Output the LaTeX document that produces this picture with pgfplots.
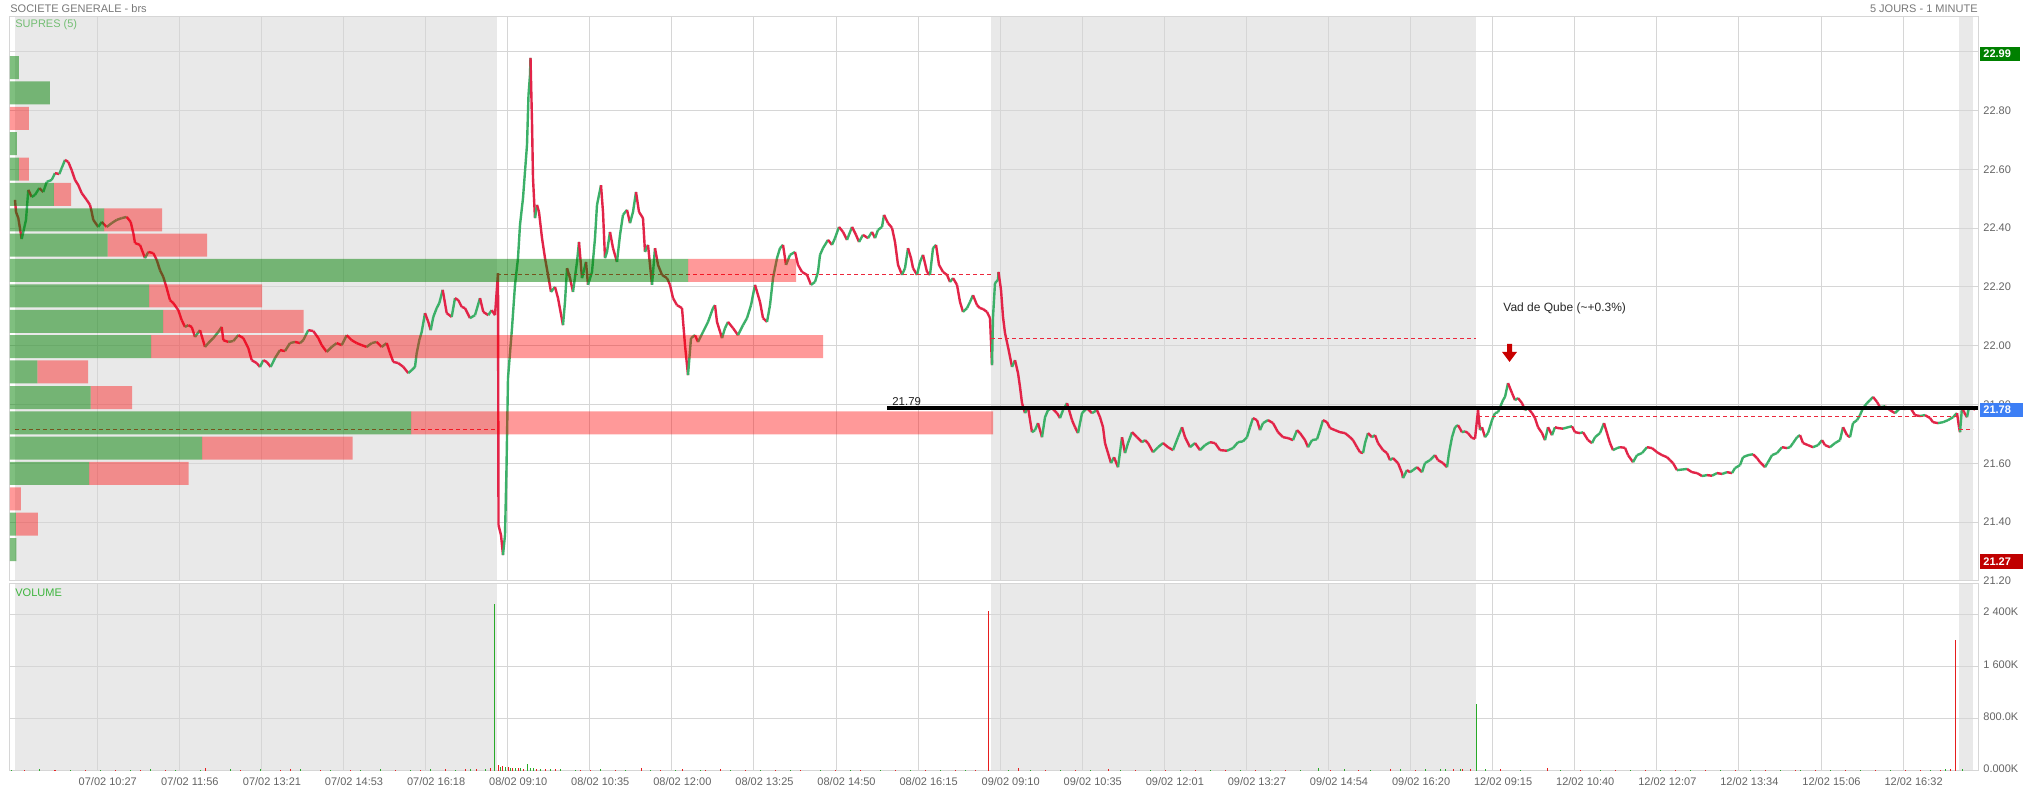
\documentclass[border=0pt]{standalone}
\usepackage{fontspec}
\setmainfont{Liberation Sans}
\usepackage{pgfplots}
\usepackage{pgfplotstable}
\pgfplotsset{compat=1.18}
\definecolor{sessbg}{RGB}{233,233,233}
\definecolor{gridc}{RGB}{214,214,214}
\definecolor{candR}{RGB}{226,36,72}
\definecolor{candG}{RGB}{60,176,104}
\definecolor{txtgray}{RGB}{100,100,100}
\definecolor{hdrgray}{RGB}{120,120,120}
\definecolor{supgreen}{RGB}{115,190,115}
\definecolor{vollbl}{RGB}{60,180,60}
\definecolor{volG}{RGB}{40,170,40}
\definecolor{volR}{RGB}{230,30,30}
\definecolor{dashR}{RGB}{235,40,60}
\definecolor{boxG}{RGB}{0,128,0}
\definecolor{boxB}{RGB}{61,127,245}
\definecolor{boxR}{RGB}{192,0,0}
\definecolor{arrowR}{RGB}{200,0,0}
\newcommand{\fs}{\fontsize{5.5}{6}\selectfont}

\pgfplotstableread{
x p c
15 22.496 0
16 22.455 0
18.3 22.434 0
21.7 22.363 1
26 22.428 1
28.3 22.530 0
31.7 22.506 1
35 22.513 1
39.3 22.536 0
43.3 22.523 1
46.7 22.557 1
51.7 22.564 1
55 22.587 0
59.3 22.584 1
61.7 22.604 1
65 22.632 0
68.3 22.625 0
71.7 22.597 0
75 22.564 0
78.3 22.546 0
81.7 22.519 0
86.7 22.496 0
90 22.479 0
91.7 22.455 0
93.3 22.428 0
98.3 22.404 1
101.7 22.421 0
106.7 22.404 1
111.7 22.417 1
116.7 22.428 1
121.7 22.434 1
126.7 22.438 0
130.7 22.421 0
133.3 22.383 0
135 22.349 0
140 22.343 0
145 22.298 1
148.3 22.319 0
153.3 22.315 0
156.7 22.292 0
160 22.257 0
163.3 22.234 0
166.7 22.196 0
170 22.155 0
173.3 22.145 0
178.3 22.121 0
181.7 22.087 0
185 22.064 1
188.3 22.070 0
191.7 22.064 0
195 22.030 1
200 22.053 0
205 21.996 1
208.3 22.009 1
213.3 22.026 1
218.3 22.047 1
221.7 22.064 0
223.3 22.019 0
228.3 22.013 1
233.3 22.016 1
238.3 22.036 0
243.3 22.026 0
248.3 21.992 0
251.7 21.951 0
256.7 21.941 0
260 21.928 1
263.3 21.951 0
266.7 21.945 0
270.7 21.928 1
275 21.958 1
280 21.985 0
285 21.982 1
290 22.009 1
295 22.013 0
300 22.009 1
303.3 22.019 1
308.3 22.053 0
313.3 22.050 0
318.3 22.026 0
321.7 22.002 0
326.7 21.979 1
331.7 21.996 1
336.7 22.009 0
341.7 22.002 1
346.7 22.036 0
351.7 22.019 0
356.7 22.009 0
361.7 22.002 0
366.7 21.996 1
371.7 22.009 1
376.7 22.013 0
381.7 21.996 1
386.7 22.009 0
390 21.975 0
393.3 21.945 0
398.3 21.941 0
403.3 21.928 0
408.3 21.907 1
411.7 21.917 1
415 21.928 1
416.7 21.975 1
419.3 22.019 1
421.7 22.047 1
425 22.111 0
428.3 22.081 0
430.7 22.053 1
433.3 22.098 1
436.7 22.128 1
439.3 22.145 1
442.7 22.190 0
446.7 22.111 0
451.7 22.098 1
455 22.162 0
458.3 22.155 0
461.7 22.132 0
465 22.128 0
470 22.094 1
475 22.104 1
480 22.162 0
483.3 22.115 0
488.3 22.104 1
491.7 22.121 0
495 22.104 0
498 22.247 0
498.5 21.390 0
501 21.356 0
503 21.288 1
505 21.356 1
506.5 21.584 1
508 21.890 1
512 22.060 1
515 22.207 1
518 22.298 1
520 22.411 1
523 22.502 1
527 22.683 1
528.5 22.853 1
530 22.921 1
530.5 22.979 0
532 22.761 0
533 22.570 0
535 22.434 1
537 22.479 0
539 22.455 0
542 22.366 0
545 22.298 0
548 22.241 0
551 22.183 1
555 22.200 0
558 22.162 0
563 22.070 1
565 22.149 1
567 22.264 0
570 22.230 0
573 22.183 1
577 22.285 1
579 22.353 0
582 22.230 1
586 22.285 0
588 22.207 1
592 22.251 1
595 22.366 1
597 22.479 1
601 22.546 0
603 22.455 0
605 22.298 1
607 22.319 1
610 22.387 0
613 22.332 0
617 22.285 1
620 22.377 1
623 22.445 1
627 22.462 0
630 22.417 1
633 22.455 1
636 22.523 0
639 22.455 0
643 22.434 0
645 22.319 1
648 22.343 0
652 22.207 1
655 22.332 0
658 22.275 0
662 22.241 0
667 22.230 0
670 22.207 0
673 22.162 0
677 22.138 0
682 22.128 0
685 22.002 0
688 21.900 1
691 22.026 1
695 22.036 0
698 22.013 1
703 22.047 1
708 22.081 1
713 22.128 1
715 22.138 0
717 22.081 0
722 22.026 1
725 22.060 1
728 22.081 0
733 22.060 0
738 22.036 1
743 22.070 1
747 22.094 1
751 22.138 1
755 22.207 0
760 22.149 0
763 22.094 0
767 22.081 1
770 22.138 1
773 22.230 1
777 22.298 1
780 22.332 1
783 22.343 0
786 22.275 1
790 22.309 1
795 22.319 0
798 22.275 0
802 22.251 0
807 22.241 0
811 22.207 1
815 22.217 1
818 22.251 1
820 22.309 1
823 22.332 1
828 22.360 0
832 22.343 1
835 22.366 1
839 22.404 0
843 22.387 0
847 22.360 1
852 22.404 0
856 22.377 0
859 22.353 1
863 22.377 0
868 22.366 1
872 22.387 0
875 22.366 1
878 22.394 1
882 22.404 1
884 22.445 0
888 22.417 0
892 22.401 0
895 22.353 0
898 22.275 0
902 22.241 1
905 22.264 1
908 22.332 0
911 22.298 0
913 22.264 0
917 22.241 1
920 22.285 1
923 22.309 0
927 22.251 0
930 22.241 1
933 22.332 1
936 22.343 0
939 22.275 0
943 22.251 0
947 22.241 0
950 22.217 1
953 22.230 0
957 22.207 0
960 22.149 0
963 22.115 1
967 22.128 1
970 22.149 1
973 22.172 0
977 22.138 0
980 22.128 0
983 22.125 0
987 22.115 0
990 22.094 0
992 21.934 1
993 22.098 1
995 22.213 1
998 22.224 1
998.5 22.251 0
1001 22.190 0
1003 22.098 0
1005 22.043 0
1008 21.996 0
1012 21.928 1
1015 21.951 0
1018 21.907 0
1020 21.860 0
1022 21.805 0
1025 21.771 1
1028 21.791 0
1032 21.706 1
1035 21.713 1
1038 21.737 0
1042 21.689 1
1045 21.757 1
1048 21.781 1
1052 21.788 0
1057 21.771 0
1060 21.754 1
1063 21.781 1
1067 21.805 0
1072 21.747 0
1075 21.723 0
1078 21.703 1
1082 21.771 1
1087 21.788 0
1092 21.771 1
1097 21.781 0
1100 21.757 0
1103 21.723 0
1105 21.669 0
1108 21.635 0
1111 21.601 1
1114 21.621 0
1118 21.587 1
1122 21.689 0
1125 21.635 1
1128 21.669 1
1132 21.706 0
1137 21.689 0
1142 21.672 1
1145 21.679 0
1148 21.669 0
1153 21.638 1
1158 21.655 1
1163 21.669 0
1168 21.655 0
1173 21.645 1
1178 21.689 1
1182 21.723 0
1185 21.689 0
1190 21.655 1
1195 21.669 0
1200 21.645 1
1205 21.662 1
1210 21.672 0
1215 21.669 0
1220 21.645 0
1227 21.643 1
1233 21.652 1
1238 21.672 1
1243 21.675 1
1247 21.689 1
1250 21.723 1
1253 21.754 0
1257 21.747 0
1260 21.713 1
1263 21.737 1
1268 21.747 0
1273 21.737 0
1278 21.706 0
1283 21.689 0
1288 21.686 0
1293 21.679 1
1297 21.713 0
1300 21.703 0
1305 21.679 0
1308 21.655 1
1312 21.679 1
1317 21.682 1
1320 21.713 1
1323 21.747 0
1327 21.740 0
1330 21.720 0
1335 21.713 0
1340 21.706 0
1345 21.703 0
1350 21.689 0
1353 21.679 0
1357 21.655 0
1360 21.638 0
1363 21.635 1
1365 21.669 1
1368 21.703 0
1372 21.689 1
1375 21.696 0
1378 21.669 0
1383 21.645 0
1387 21.635 0
1390 21.611 1
1393 21.618 0
1398 21.601 0
1402 21.567 0
1403 21.550 1
1407 21.577 0
1410 21.570 1
1413 21.577 1
1417 21.587 0
1422 21.570 1
1425 21.601 1
1430 21.611 1
1435 21.628 0
1438 21.611 0
1443 21.601 0
1447 21.587 1
1449 21.635 1
1452 21.689 1
1455 21.723 1
1458 21.730 0
1462 21.706 1
1465 21.709 0
1468 21.703 0
1472 21.686 0
1475 21.684 0
1478 21.781 0
1480 21.713 1
1482 21.723 0
1485 21.689 1
1488 21.703 1
1492 21.747 1
1495 21.771 1
1498 21.774 1
1503 21.815 1
1505 21.826 1
1508 21.873 0
1512 21.839 0
1515 21.815 1
1518 21.822 0
1522 21.805 0
1525 21.781 1
1528 21.788 0
1532 21.771 0
1535 21.754 0
1538 21.723 0
1542 21.703 0
1545 21.679 1
1548 21.723 0
1552 21.696 1
1555 21.723 0
1558 21.720 0
1563 21.718 1
1568 21.723 1
1572 21.726 0
1575 21.706 0
1580 21.703 1
1583 21.706 0
1588 21.679 0
1592 21.669 1
1595 21.689 1
1600 21.703 1
1604 21.737 0
1607 21.703 0
1610 21.669 0
1613 21.645 1
1617 21.652 1
1620 21.655 0
1625 21.653 0
1628 21.628 0
1633 21.604 1
1637 21.628 1
1642 21.635 1
1647 21.655 0
1652 21.652 0
1657 21.638 0
1662 21.628 0
1667 21.621 0
1670 21.611 0
1673 21.601 0
1677 21.577 1
1682 21.579 1
1687 21.581 0
1692 21.570 0
1697 21.567 0
1702 21.557 1
1707 21.560 0
1712 21.558 1
1717 21.567 0
1722 21.564 1
1727 21.570 0
1732 21.567 1
1735 21.584 1
1740 21.594 1
1743 21.621 1
1748 21.628 1
1753 21.631 0
1757 21.618 0
1760 21.604 0
1765 21.587 1
1768 21.604 1
1772 21.628 1
1777 21.635 1
1782 21.655 0
1787 21.652 1
1790 21.655 1
1793 21.669 1
1797 21.689 1
1800 21.696 0
1803 21.669 0
1808 21.662 0
1813 21.655 1
1818 21.662 1
1822 21.679 0
1825 21.662 0
1830 21.655 1
1835 21.669 1
1840 21.679 1
1843 21.723 0
1847 21.696 0
1850 21.689 1
1853 21.737 1
1857 21.747 1
1860 21.764 1
1863 21.788 1
1867 21.805 1
1870 21.815 1
1873 21.826 0
1877 21.809 0
1880 21.791 1
1885 21.794 0
1890 21.781 0
1895 21.771 1
1900 21.788 0
1905 21.785 1
1910 21.791 0
1915 21.764 0
1920 21.761 1
1925 21.764 0
1930 21.754 0
1933 21.740 0
1938 21.737 1
1943 21.740 1
1948 21.747 1
1953 21.757 1
1957 21.771 0
1959 21.723 0
1960 21.706 1
1962 21.791 0
1964 21.774 0
1967 21.757 1
1969 21.791 0
1972 21.788 0
1975 21.783 0
}\candles

\pgfplotsset{
  xtk/.style={xtick={97.3,179.38,261.46,343.54,425.62,507.7,589.78,671.86,753.94,836.02,918.1,1000.18,1082.26,1164.34,1246.42,1328.5,1410.58,1492.66,1574.74,1656.82,1738.9,1820.98,1903.06}},
  panel/.style={scale only axis, width=984pt, anchor=south west, xmin=10, xmax=1978,
    axis line style={draw=gridc, line width=0.5pt},
    grid=major, major grid style={draw=gridc, line width=0.5pt},
    major tick length=0pt, yticklabel pos=right,
    yticklabel style={anchor=west, inner sep=0pt, xshift=2.5pt, font=\fs, text=txtgray},
    xticklabel style={anchor=center, inner sep=0pt, xshift=5.25pt, yshift=-5.25pt, font=\fs, text=txtgray},
    /pgf/number format/assume math mode=true},
  bg/.style={scale only axis, width=984pt, anchor=south west, xmin=10, xmax=1978, hide axis},
}

\begin{document}
\begin{tikzpicture}
\path[use as bounding box] (0,0) rectangle (1011.5pt,396pt);
\fill[white] (0,0) rectangle (1011.5pt,396pt);

% ---------- session shading (backgrounds) ----------
\begin{axis}[bg, at={(5pt,105.5pt)}, height=282pt, ymin=21.2, ymax=23.118]
\fill[fill=sessbg] (axis cs:15,21.1) rectangle (axis cs:497,23.2);
\fill[fill=sessbg] (axis cs:991,21.1) rectangle (axis cs:1476,23.2);
\fill[fill=sessbg] (axis cs:1959,21.1) rectangle (axis cs:1973,23.2);
\end{axis}
\begin{axis}[bg, at={(5pt,10.5pt)}, height=93.5pt, ymin=0, ymax=2860]
\fill[fill=sessbg] (axis cs:15,0) rectangle (axis cs:497,2860);
\fill[fill=sessbg] (axis cs:991,0) rectangle (axis cs:1476,2860);
\fill[fill=sessbg] (axis cs:1959,0) rectangle (axis cs:1973,2860);
\end{axis}

% ---------- price panel ----------
\begin{axis}[panel, xtk,
  at={(5pt,105.5pt)}, height=282pt,
  ymin=21.2, ymax=23.118,
  xticklabels={},
  ytick={21.2,21.4,21.6,21.8,22.0,22.2,22.4,22.6,22.8,23.0},
  yticklabel style={/pgf/number format/fixed, /pgf/number format/fixed zerofill, /pgf/number format/precision=2},
  colormap={rg}{color=(candR) color=(candG)},
  point meta min=0, point meta max=1]
\addplot[mesh, shader=flat corner, point meta=explicit, line width=1.2pt] table[x=x, y=p, meta=c] {\candles};
\addplot[dashR, line width=0.5pt, dash pattern=on 2pt off 1.5pt] coordinates {(15,21.716) (497,21.716)};
\addplot[dashR, line width=0.5pt, dash pattern=on 2pt off 1.5pt] coordinates {(497,22.243) (991,22.243)};
\addplot[dashR, line width=0.5pt, dash pattern=on 2pt off 1.5pt] coordinates {(991,22.025) (1476,22.025)};
\addplot[dashR, line width=0.5pt, dash pattern=on 2pt off 1.5pt] coordinates {(1478,21.759) (1959,21.759)};
\addplot[dashR, line width=0.5pt, dash pattern=on 2pt off 1.5pt] coordinates {(1959,21.716) (1973,21.716)};
\addplot[black, line width=2pt] coordinates {(887,21.79) (1978,21.79)};
\node[anchor=south west, inner sep=0pt, font=\fontsize{5.7}{6.5}\selectfont, text={rgb,255:red,30;green,30;blue,30}] at (axis cs:892,21.796) {21.79};
\node[anchor=west, inner sep=0pt, font=\fontsize{6}{7}\selectfont, text={rgb,255:red,40;green,40;blue,40}] at (axis cs:1503,22.128) {Vad de Qube (\textasciitilde+0.3\%)};
\fill[arrowR] (axis cs:1507,22.006) -- (axis cs:1512,22.006) -- (axis cs:1512,21.979) -- (axis cs:1517,21.979) -- (axis cs:1509.5,21.945) -- (axis cs:1502,21.979) -- (axis cs:1507,21.979) -- cycle;
\end{axis}

% ---------- volume-by-price profile (overlay) ----------
\begin{axis}[at={(5pt,105.5pt)}, anchor=south west, scale only axis, width=984pt, height=282pt,
  xmin=0, xmax=1968, ymin=21.2, ymax=23.118, hide axis, xbar stacked, bar width=11.5pt]
\addplot[draw=none, fill=boxG, fill opacity=0.5] coordinates {
(9,22.946) (40,22.860) (0,22.773) (7,22.687) (9,22.601) (44,22.515) (94,22.428) (97.5,22.342)
(678,22.256) (139,22.170) (153,22.083) (141,21.997) (27.5,21.911) (80.7,21.824) (401,21.738)
(192,21.652) (79,21.566) (0,21.479) (6,21.393) (6.5,21.307)};
\addplot[draw=none, fill=red, fill opacity=0.4] coordinates {
(0,22.946) (0,22.860) (19,22.773) (0,22.687) (10,22.601) (17,22.515) (58,22.428) (99.5,22.342)
(108,22.256) (113,22.170) (140.5,22.083) (672,21.997) (50.5,21.911) (41.3,21.824) (582,21.738)
(150.5,21.652) (99.7,21.566) (11,21.479) (22,21.393) (0,21.307)};
\end{axis}

% ---------- volume panel ----------
\begin{axis}[panel, xtk,
  at={(5pt,10.5pt)}, height=93.5pt,
  ymin=0, ymax=2860,
  xticklabels={07/02 10:27,07/02 11:56,07/02 13:21,07/02 14:53,07/02 16:18,08/02 09:10,08/02 10:35,08/02 12:00,08/02 13:25,08/02 14:50,08/02 16:15,09/02 09:10,09/02 10:35,09/02 12:01,09/02 13:27,09/02 14:54,09/02 16:20,12/02 09:15,12/02 10:40,12/02 12:07,12/02 13:34,12/02 15:06,12/02 16:32},
  ytick={0,800,1600,2400},
  yticklabels={0.000K,800.0K,1 600K,2 400K},
  yticklabel style={yshift=1pt}]
\addplot[ycomb, volG, line width=0.5pt, mark=none] coordinates {
(12,20)(40,25)(70,18)(100,22)(130,15)(150,30)(175,20)(200,18)(230,25)(260,28)(300,30)(330,22)(360,18)(380,25)(410,20)(430,28)(455,22)(470,35)(485,30)(494,2554)(500,60)(505,55)(510,45)(515,50)(520,40)(527,105)(530,45)(533,40)(540,30)(550,25)(560,28)(575,20)(600,25)(625,18)(650,22)(675,20)(700,20)(730,18)(760,22)(790,18)(820,20)(850,15)(880,18)(910,20)(940,16)(965,20)(1008,22)(1030,18)(1060,20)(1090,15)(1120,18)(1150,16)(1180,20)(1210,15)(1240,18)(1270,15)(1300,18)(1318,45)(1344,30)(1370,20)(1400,28)(1425,32)(1440,25)(1445,35)(1460,30)(1476,1025)(1485,25)(1520,20)(1560,15)(1600,18)(1630,15)(1660,15)(1690,18)(1720,15)(1750,18)(1780,15)(1800,15)(1830,18)(1860,20)(1890,15)(1930,18)(1945,25)(1962,30)};
\addplot[ycomb, volR, line width=0.5pt, mark=none] coordinates {
(25,18)(55,20)(85,22)(115,18)(140,20)(165,18)(205,40)(240,20)(280,22)(290,25)(320,18)(350,20)(395,22)(420,18)(445,25)(465,30)(476,35)(490,45)(498,95)(502,75)(508,65)(512,50)(518,40)(523,35)(536,30)(545,35)(555,25)(580,20)(590,22)(615,18)(641,40)(660,20)(682,35)(705,18)(720,25)(745,20)(775,18)(800,22)(835,18)(860,20)(895,16)(925,18)(955,15)(975,20)(988,2447)(1018,40)(1045,18)(1075,15)(1108,35)(1135,18)(1165,15)(1195,18)(1225,15)(1255,18)(1285,16)(1330,18)(1358,15)(1390,25)(1415,20)(1453,35)(1462,30)(1470,25)(1500,25)(1547,50)(1580,18)(1615,15)(1645,15)(1675,18)(1705,15)(1735,15)(1765,18)(1795,15)(1815,18)(1845,15)(1875,18)(1905,15)(1920,20)(1940,22)(1950,25)(1955,2004)};
\end{axis}

% ---------- texts and price flags ----------
\node[anchor=west, inner sep=0pt, font=\fs, text=hdrgray] at (5pt,391.75pt) {SOCIETE GENERALE - brs};
\node[anchor=east, inner sep=0pt, font=\fs, text=hdrgray] at (989pt,391.75pt) {5 JOURS - 1 MINUTE};
\node[anchor=west, inner sep=0pt, font=\fs, text=supgreen] at (7.5pt,383.5pt) {SUPRES (5)};
\node[anchor=west, inner sep=0pt, font=\fs, text=vollbl] at (7.5pt,99.5pt) {VOLUME};
\fill[boxG] (990pt,365.5pt) rectangle (1010pt,372.5pt);
\node[anchor=west, inner sep=0pt, font=\fs\bfseries, text=white] at (991.5pt,369pt) {22.99};
\fill[boxB] (990pt,187.5pt) rectangle (1011.5pt,194.5pt);
\node[anchor=west, inner sep=0pt, font=\fs\bfseries, text=white] at (991.5pt,191pt) {21.78};
\fill[boxR] (990pt,111.5pt) rectangle (1011.5pt,118.75pt);
\node[anchor=west, inner sep=0pt, font=\fs\bfseries, text=white] at (991.5pt,115.1pt) {21.27};
\end{tikzpicture}
\end{document}
